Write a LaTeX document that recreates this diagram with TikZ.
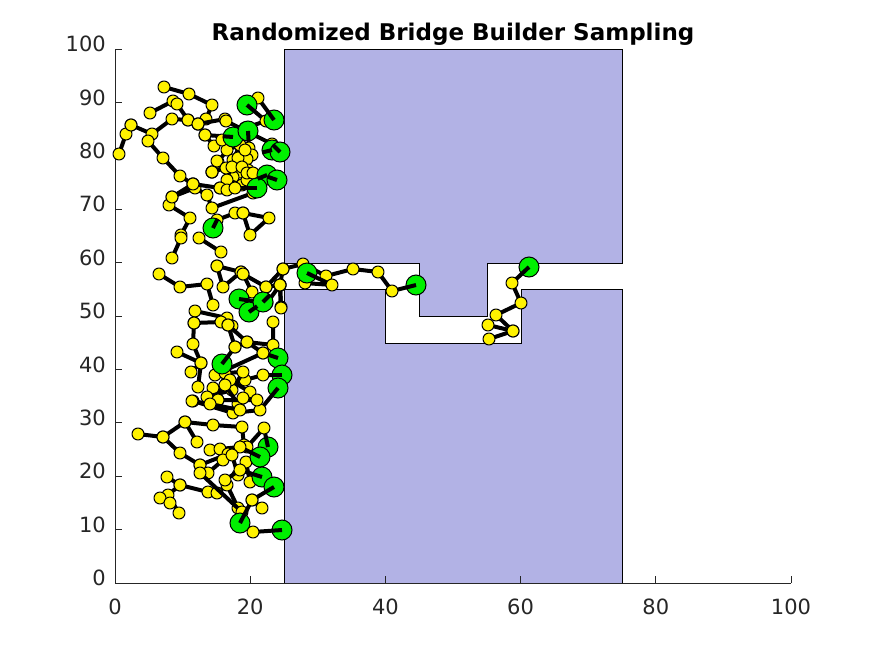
\documentclass[tikz,border=0pt]{standalone}
\usepackage{fontspec}
\setmainfont{DejaVu Sans}
\usetikzlibrary{calc}
\definecolor{obst}{RGB}{178,178,229}
\definecolor{axc}{RGB}{38,38,38}
\definecolor{rootg}{RGB}{0,240,0}
\begin{document}
\begin{tikzpicture}[x=1pt,y=-1pt,
  edge/.style={line width=4pt, line join=round, line cap=round},
  ymk/.style={mark=*, mark size=6pt, mark options={fill=yellow, draw=black, line width=1pt}},
  groot/.style={fill=rootg, draw=black, line width=1pt},
  tickline/.style={axc, line width=0.8pt},
  lab/.style={text=axc, inner sep=0pt, font=\fontsize{21}{21}\selectfont}]
\useasboundingbox[fill=white] (0,0) rectangle (875,656);
% obstacle
\filldraw[fill=obst, draw=black, line width=0.6pt] (284,49) -- (622,49) -- (622,263) -- (487,263) -- (487,316) -- (419,316) -- (419,263) -- (284,263) -- cycle;
\filldraw[fill=obst, draw=black, line width=0.6pt] (284,583) -- (622,583) -- (622,289) -- (521,289) -- (521,343) -- (385,343) -- (385,289) -- (284,289) -- cycle;
% axes
\draw[tickline] (115,49) -- (115,583) -- (791,583);
\foreach \v/\px in {0/115, 20/250.2, 40/385.4, 60/520.6, 80/655.8, 100/791} {
  \draw[tickline] (\px,583) -- ++(0,-7);
  \node[lab, anchor=base] at (\px,614) {\v};
}
\foreach \v [evaluate=\v as \py using 583-5.34*\v] in {0,10,...,100} {
  \draw[tickline] (115,\py) -- ++(7,0);
  \node[lab, anchor=mid east] at (106,\py) {\v};
}
\node[inner sep=0pt, anchor=base, font=\bfseries\fontsize{23}{23}\selectfont] at (453,40) {Randomized Bridge Builder Sampling};
% trees
\draw[edge] plot[ymk] coordinates {(164,87) (189,94) (212,105) (206,119) (198,124)};
\draw[edge] plot[ymk] coordinates {(150,113) (173,101) (177,104) (188,120) (198,124) (225,119)};
\draw[edge] plot[ymk] coordinates {(131,125) (126,134) (119,154)};
\draw[edge] plot[ymk] coordinates {(131,125) (152,134) (172,119) (188,120)};
\draw[edge] plot[ymk] coordinates {(148,141) (163,158) (180,176) (193,184)};
\draw[edge] plot[ymk] coordinates {(198,124) (205,135) (233,137)};
\draw[edge] plot[ymk] coordinates {(226,121) (272,144) (280,152)};
\draw[edge] plot[ymk] coordinates {(274,120) (258,98)};
\draw[edge] plot[ymk] coordinates {(247,105) (266,121) (245,128)};
\draw[edge] plot[ymk] coordinates {(233,137) (240,145) (227,150) (218,162) (212,172)};
\draw[edge] plot[ymk] coordinates {(248,131) (249,148) (252,155) (247,159) (240,172) (233,177) (220,188)};
\draw[edge] plot[ymk] coordinates {(240,145) (233,160) (227,180) (242,185) (267,175)};
\draw[edge] plot[ymk] coordinates {(248,170) (247,180) (257,188)};
\draw[edge] plot[ymk] coordinates {(212,172) (217,161)};
\draw[edge] plot[ymk] coordinates {(212,172) (226,168) (238,158) (245,150)};
\draw[edge] plot[ymk] coordinates {(205,135) (214,146) (222,140)};
\draw[edge] plot[ymk] coordinates {(193,184) (172,197) (169,205) (190,218) (181,235)};
\draw[edge] plot[ymk] coordinates {(172,197) (195,188) (207,195) (212,208) (253,193) (257,188)};
\draw[edge] plot[ymk] coordinates {(193,184) (220,188) (227,190) (235,188) (257,188)};
\draw[edge] plot[ymk] coordinates {(232,167) (242,167) (247,173) (253,173) (267,175)};
\draw[edge] plot[ymk] coordinates {(213,228) (217,220) (235,213) (243,213) (269,218) (250,235) (243,213)};
\draw[edge] plot[ymk] coordinates {(181,238) (172,258)};
\draw[edge] plot[ymk] coordinates {(199,238) (221,252)};
\draw[edge] plot[ymk] coordinates {(159,274) (180,287) (207,284) (213,305)};
\draw[edge] plot[ymk] coordinates {(217,266) (241,272) (243,274) (266,287) (283,269)};
\draw[edge] plot[ymk] coordinates {(217,266) (223,287) (241,272)};
\draw[edge] plot[ymk] coordinates {(243,274) (252,292)};
\draw[edge] plot[ymk] coordinates {(239,299) (267,303) (280,285) (281,307)};
\draw[edge] plot[ymk] coordinates {(266,287) (280,285)};
\draw[edge] plot[ymk] coordinates {(195,311) (227,318) (232,326)};
\draw[edge] plot[ymk] coordinates {(249,312) (263,302)};
\draw[edge] plot[ymk] coordinates {(194,323) (221,322) (228,325) (235,347) (247,342) (263,353)};
\draw[edge] plot[ymk] coordinates {(194,323) (193,344) (201,363) (198,387)};
\draw[edge] plot[ymk] coordinates {(177,352) (201,363) (191,372)};
\draw[edge] plot[ymk] coordinates {(228,325) (247,342) (273,345) (273,322)};
\draw[edge] plot[ymk] coordinates {(222,364) (235,347)};
\draw[edge] plot[ymk] coordinates {(215,375) (263,353) (278,358)};
\draw[edge] plot[ymk] coordinates {(213,388) (245,380) (263,375) (282,375)};
\draw[edge] plot[ymk] coordinates {(207,397) (232,390) (243,372) (225,373) (218,400)};
\draw[edge] plot[ymk] coordinates {(230,380) (250,392) (238,404) (225,385)};
\draw[edge] plot[ymk] coordinates {(193,401) (233,413) (260,410) (278,388)};
\draw[edge] plot[ymk] coordinates {(218,400) (257,400) (243,398)};
\draw[edge] plot[ymk] coordinates {(138,434) (163,437) (185,422) (197,442)};
\draw[edge] plot[ymk] coordinates {(185,422) (213,425) (242,427) (244,445)};
\draw[edge] plot[ymk] coordinates {(163,437) (180,453) (200,465)};
\draw[edge] plot[ymk] coordinates {(247,447) (264,428) (268,447)};
\draw[edge] plot[ymk] coordinates {(210,450) (220,449) (240,447) (260,457)};
\draw[edge] plot[ymk] coordinates {(200,465) (228,454) (223,460) (208,473)};
\draw[edge] plot[ymk] coordinates {(232,455) (238,475) (246,462) (250,482)};
\draw[edge] plot[ymk] coordinates {(192,401) (210,404) (240,410)};
\draw[edge] plot[ymk] coordinates {(167,477) (180,485) (168,495) (179,513)};
\draw[edge] plot[ymk] coordinates {(160,498) (170,503)};
\draw[edge] plot[ymk] coordinates {(180,485) (208,492) (217,493) (227,485) (238,508)};
\draw[edge] plot[ymk] coordinates {(200,473) (242,512)};
\draw[edge] plot[ymk] coordinates {(240,523) (252,500) (262,508)};
\draw[edge] plot[ymk] coordinates {(240,523) (253,532) (282,530)};
\draw[edge] plot[ymk] coordinates {(252,500) (274,487)};
\draw[edge] plot[ymk] coordinates {(262,477) (240,470) (225,480)};
% bridge trees
\draw[edge] plot[ymk] coordinates {(280,285) (283,269) (303,264) (326,276) (353,269) (378,272) (392,291) (416,285)};
\draw[edge] plot[ymk] coordinates {(307,273) (332,285) (305,283)};
\draw[edge] plot[ymk] coordinates {(281,308) (280,285)};
\draw[edge] plot[ymk] coordinates {(529,267) (512,283) (521,303) (496,315) (513,331) (489,339)};
\draw[edge] plot[ymk] coordinates {(488,325) (513,331)};
% roots (drawn on top, with the stub of their first edge)
\def\rootlist{247/105/266/121, 274/120/258/98, 233/137/205/135, 248/131/249/148, 272/150/252/155, 280/152/272/144, 267/175/242/185, 277/180/248/170, 257/188/235/188, 213/228/217/220, 239/299/267/303, 249/312/263/302, 263/302/280/285, 222/364/235/347, 278/358/263/353, 282/375/263/375, 278/388/260/410, 268/447/264/428, 260/457/240/447, 262/477/240/470, 274/487/252/500, 240/523/252/500, 282/530/253/532, 307/273/332/285, 416/285/392/291, 529/267/512/283}
\foreach \rx/\ry/\nx/\ny in \rootlist
  \filldraw[groot] (\rx,\ry) circle (10pt);
\foreach \rx/\ry/\nx/\ny in \rootlist
  \draw[line width=4pt] (\rx,\ry) -- ($(\rx,\ry)!10pt!(\nx,\ny)$);
\end{tikzpicture}
\end{document}
